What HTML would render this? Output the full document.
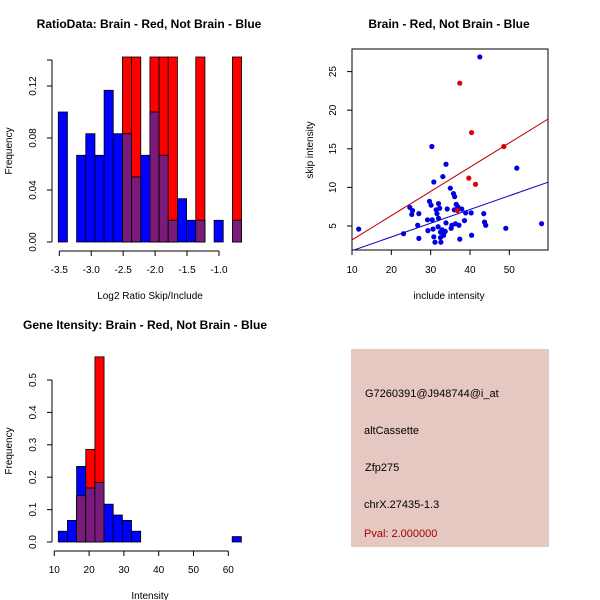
<!DOCTYPE html>
<html><head><meta charset="utf-8"><style>
html,body{margin:0;padding:0;background:#fff;}
svg{display:block;font-family:"Liberation Sans",sans-serif;}
</style></head><body>
<svg id="c" width="600" height="600" viewBox="0 0 600 600">
<rect width="600" height="600" fill="#fff"/>
<text x="149" y="28" text-anchor="middle" font-size="12" font-weight="bold">RatioData: Brain - Red, Not Brain - Blue</text>
<text x="449" y="28" text-anchor="middle" font-size="12" font-weight="bold">Brain - Red, Not Brain - Blue</text>
<text x="145" y="329" text-anchor="middle" font-size="12" font-weight="bold">Gene Itensity: Brain - Red, Not Brain - Blue</text>
<text x="150" y="299" text-anchor="middle" font-size="10">Log2 Ratio Skip/Include</text>
<text transform="translate(12,151) rotate(-90)" text-anchor="middle" font-size="10">Frequency</text>
<text x="449" y="299" text-anchor="middle" font-size="10">include intensity</text>
<text transform="translate(313,150) rotate(-90)" text-anchor="middle" font-size="10">skip intensity</text>
<text x="150" y="599" text-anchor="middle" font-size="10">Intensity</text>
<text transform="translate(12,451) rotate(-90)" text-anchor="middle" font-size="10">Frequency</text>
<g>
<rect x="351" y="349" width="198" height="198" fill="#e6c8c2"/>
<text x="365" y="397" font-size="11">G7260391@J948744@i_at</text>
<text x="364" y="434" font-size="11">altCassette</text>
<text x="365" y="471" font-size="11">Zfp275</text>
<text x="364" y="508" font-size="11">chrX.27435-1.3</text>
<text x="364" y="537" font-size="11" fill="#a00000">Pval: 2.000000</text>
</g>
<g id="g1"></g><g id="g2"></g><g id="g3"></g>
</svg>
<script>
// Ratio histogram data
const ratioStart = -3.516;
const ratioBinWidth = 0.1435;
const ratioBlue = [0.1,0,0.0667,0.0833,0.0667,0.1167,0.0833,0.0833,0.05,0.0667,0.1,0.0667,0.0167,0.0333,0.0167,0.0167,0,0.0167,0,0.0167];
const ratioRed = [0,0,0,0,0,0,0,0.1429,0.1429,0,0.1429,0.1429,0.1429,0,0,0.1429,0,0,0,0.1429];
const ratioXTicks = [-3.5,-3.0,-2.5,-2.0,-1.5,-1.0];
const ratioXTickLabels = ["-3.5","-3.0","-2.5","-2.0","-1.5","-1.0"];
const ratioYTicks = [0,0.04,0.08,0.12];
const ratioYTickLabels = ["0.00","0.04","0.08","0.12"];
// Scatter data
const blueX = [11.7,23.1,24.7,25.4,25.2,27.0,26.7,27.0,29.2,29.7,30.1,29.3,30.3,30.8,30.4,30.6,30.8,31.1,31.4,31.6,31.9,32.0,32.0,32.3,32.5,32.5,32.6,32.9,33.1,33.3,33.7,33.9,34.2,33.9,35.0,35.4,35.2,35.8,36.1,36.0,36.3,36.5,36.9,37.2,37.4,37.9,38.6,38.9,40.3,40.4,42.5,43.5,43.7,44.0,49.1,51.9,58.2];
const blueY = [4.6,4.0,7.4,7.0,6.5,6.6,5.1,3.4,5.8,8.2,7.7,4.4,15.3,10.7,5.8,4.6,3.6,2.9,7.1,6.6,4.9,6.0,7.9,7.3,4.2,3.5,2.9,4.5,11.4,3.8,4.3,13.0,7.2,5.4,9.9,5.1,4.7,9.2,8.8,7.1,5.3,7.8,7.5,5.1,3.3,7.2,5.7,6.7,6.7,3.8,26.9,6.6,5.5,5.1,4.7,12.5,5.3];
const redX = [37.4,40.4,48.6,39.7,41.4,36.8];
const redY = [23.5,17.1,15.3,11.2,10.4,7.0];
const redLine = [[10,3.2],[60,18.9]];
const blueLine = [[10,1.8],[60,10.7]];
const scXTicks = [10,20,30,40,50];
const scYTicks = [5,10,15,20,25];
// Intensity histogram data
const intStart = 11.15;
const intBinWidth = 2.63;
const intBlue = [0.0333,0.0667,0.2333,0.1667,0.1833,0.1167,0.0833,0.0667,0.0333,0,0,0,0,0,0,0,0,0,0,0.0167];
const intRed = [0,0,0.1429,0.2857,0.5714,0,0,0,0,0,0,0,0,0,0,0,0,0,0,0];
const intXTicks = [10,20,30,40,50,60];
const intYTicks = [0,0.1,0.2,0.3,0.4,0.5];
const intYTickLabels = ["0.0","0.1","0.2","0.3","0.4","0.5"];

const NS = "http://www.w3.org/2000/svg";
function mk(parent, tag, attrs){const e=document.createElementNS(NS,tag);for(const k in attrs)e.setAttribute(k,attrs[k]);parent.appendChild(e);return e;}
function txt(parent,x,y,s,rot,anchor){const t=mk(parent,"text",{x:x,y:y,"font-size":"10","text-anchor":anchor||"middle"});if(rot)t.setAttribute("transform","rotate(-90 "+x+" "+y+")");t.textContent=s;return t;}

function hist(g, start, bw, blue, red, sx, sy, clipTop){
  for(let i=0;i<blue.length;i++){
    const x0=sx(start+i*bw), x1=sx(start+(i+1)*bw);
    const b=blue[i], r=red[i];
    const draw=(v,fill,name)=>{ if(v<=0) return; let yt=sy(v); if(yt<clipTop) yt=clipTop;
      const el=mk(g,"rect",{x:x0,y:yt,width:x1-x0,height:sy(0)-yt,fill:fill,stroke:"#000","stroke-width":"0.8"});
      
       };
    draw(r,"#ff0000","red");
    draw(b,"#0000ff","blue");
    draw(Math.min(b,r),"#7a1a7a","overlap");
  }
}

// Panel 1
(function(){
  const g=document.getElementById("g1");
  const sx=v=>59.3+(v+3.5)*63.87, sy=v=>242-v*1300;
  hist(g,ratioStart,ratioBinWidth,ratioBlue,ratioRed,sx,sy,57);
  mk(g,"line",{x1:sx(-3.5),x2:sx(-1.0),y1:251,y2:251,stroke:"#000"});
  ratioXTicks.forEach((v,i)=>{mk(g,"line",{x1:sx(v),x2:sx(v),y1:251,y2:256,stroke:"#000"});const t=txt(g,sx(v),273,ratioXTickLabels[i]);});
  mk(g,"line",{x1:52,x2:52,y1:sy(0),y2:sy(0.14),stroke:"#000"});
  [0,0.04,0.08,0.12,0.14].forEach(v=>mk(g,"line",{x1:47,x2:52,y1:sy(v),y2:sy(v),stroke:"#000"}));
  ratioYTicks.forEach((v,i)=>{const t=txt(g,36,sy(v),ratioYTickLabels[i],true);});
})();

// Panel 2
(function(){
  const g=document.getElementById("g2");
  const sx=v=>352+(v-10)*3.933, sy=v=>226-(v-5)*7.72;
  const cp=mk(g,"clipPath",{id:"scclip"});mk(cp,"rect",{x:352,y:49,width:196,height:201});
  mk(g,"rect",{x:352,y:49,width:196,height:201,fill:"none",stroke:"#000"});
  for(let i=0;i<blueX.length;i++){const c=mk(g,"circle",{cx:sx(blueX[i]),cy:sy(blueY[i]),r:2.6,fill:"#0000e0"});}
  for(let i=0;i<redX.length;i++){const c=mk(g,"circle",{cx:sx(redX[i]),cy:sy(redY[i]),r:2.6,fill:"#e00000"});}
  const rl=mk(g,"line",{x1:sx(redLine[0][0]),y1:sy(redLine[0][1]),x2:sx(redLine[1][0]),y2:sy(redLine[1][1]),stroke:"#c00000","clip-path":"url(#scclip)"});
  
  const bl=mk(g,"line",{x1:sx(blueLine[0][0]),y1:sy(blueLine[0][1]),x2:sx(blueLine[1][0]),y2:sy(blueLine[1][1]),stroke:"#0000c0","clip-path":"url(#scclip)"});
  
  scXTicks.forEach(v=>{mk(g,"line",{x1:sx(v),x2:sx(v),y1:250,y2:255,stroke:"#000"});const t=txt(g,sx(v),273,String(v));});
  scYTicks.forEach(v=>{mk(g,"line",{x1:347,x2:352,y1:sy(v),y2:sy(v),stroke:"#000"});const t=txt(g,336,sy(v),String(v),true);});
})();

// Panel 3
(function(){
  const g=document.getElementById("g3");
  const sx=v=>54.3+(v-10)*3.48, sy=v=>542-v*324;
  hist(g,intStart,intBinWidth,intBlue,intRed,sx,sy,0);
  mk(g,"line",{x1:sx(10),x2:sx(60),y1:551,y2:551,stroke:"#000"});
  intXTicks.forEach(v=>{mk(g,"line",{x1:sx(v),x2:sx(v),y1:551,y2:556,stroke:"#000"});const t=txt(g,sx(v),573,String(v));});
  mk(g,"line",{x1:52,x2:52,y1:sy(0),y2:sy(0.5),stroke:"#000"});
  intYTicks.forEach((v,i)=>{mk(g,"line",{x1:47,x2:52,y1:sy(v),y2:sy(v),stroke:"#000"});const t=txt(g,36,sy(v),intYTickLabels[i],true);});
})();
</script>
</body></html>
